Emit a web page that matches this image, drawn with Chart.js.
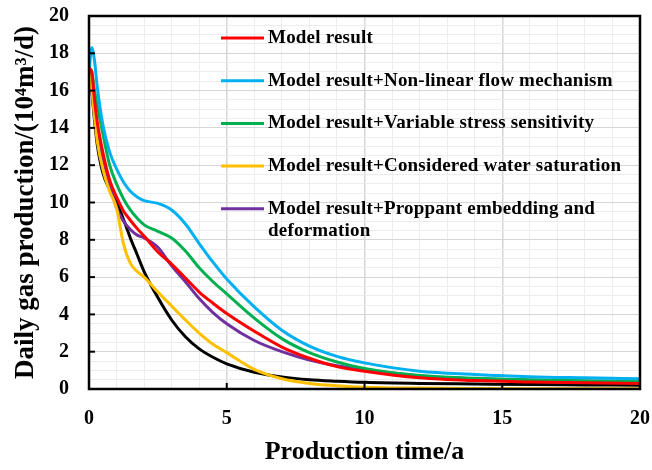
<!DOCTYPE html>
<html>
<head>
<meta charset="utf-8">
<script src="https://cdn.jsdelivr.net/npm/chart.js@4.4.1/dist/chart.umd.min.js"></script>
<style>
    html, body { margin: 0; padding: 0; background: #fff; }
    #wrap { width: 652px; height: 470px; }
</style>
</head>
<body>
<div id="wrap"><canvas id="chartGas"></canvas></div>
<script>
// production time (a)
const times = [0, 0.1, 0.2, 0.3, 0.5, 0.75, 1, 1.25, 1.5, 1.75, 2, 2.5, 3, 3.5, 4, 4.5, 5, 6, 7, 8, 9, 10, 12, 14, 16, 18, 20];

// daily gas production (10^4 m3/d)
const modelResult   = [17.2, 17.0, 15.5, 14.3, 12.7, 11.2, 10.3, 9.55, 9.05, 8.6, 8.2, 7.35, 6.7, 5.95, 5.2, 4.6, 4.05, 3.1, 2.25, 1.65, 1.2, 0.95, 0.6, 0.45, 0.38, 0.33, 0.3];
const nonLinearFlow = [17.0, 18.3, 17.6, 16.2, 14.2, 12.7, 11.8, 11.1, 10.6, 10.3, 10.1, 9.95, 9.6, 8.85, 7.8, 6.8, 5.9, 4.4, 3.15, 2.3, 1.75, 1.4, 0.95, 0.78, 0.66, 0.6, 0.55];
const stressSens    = [17.2, 17.0, 16.0, 15.2, 13.7, 12.0, 11.0, 10.2, 9.6, 9.15, 8.8, 8.45, 8.1, 7.4, 6.5, 5.75, 5.1, 3.8, 2.7, 1.95, 1.45, 1.1, 0.72, 0.58, 0.5, 0.44, 0.4];
const waterSat      = [17.2, 16.1, 14.6, 13.3, 11.8, 10.6, 9.7, 7.8, 6.75, 6.3, 6.0, 5.2, 4.45, 3.7, 3.0, 2.4, 1.95, 1.05, 0.55, 0.3, 0.18, 0.1, 0.05, 0.03, 0.02, 0.02, 0.02];
const proppantDef   = [16.4, 16.0, 14.8, 13.8, 12.4, 11.0, 9.7, 9.0, 8.55, 8.25, 8.1, 7.6, 6.6, 5.75, 4.85, 4.1, 3.5, 2.6, 2.0, 1.55, 1.25, 1.04, 0.7, 0.55, 0.47, 0.42, 0.38];
const blackCurve    = [17.2, 16.0, 14.4, 13.1, 11.6, 10.7, 10.0, 9.1, 8.1, 7.2, 6.3, 4.9, 3.7, 2.8, 2.15, 1.7, 1.35, 0.9, 0.65, 0.5, 0.42, 0.36, 0.3, 0.27, 0.24, 0.22, 0.2];

const legendLabels = [
    ["Model result"],
    ["Model result+Non-linear flow mechanism"],
    ["Model result+Variable stress sensitivity"],
    ["Model result+Considered water saturation"],
    ["Model result+Proppant embedding and", "deformation"]
];

const serif = "'Liberation Serif', 'Times New Roman', serif";

function toPoints(values) {
    return times.map((t, i) => ({ x: t, y: values[i] }));
}

function makeSet(label, values, color) {
    return {
        label: label,
        data: toPoints(values),
        borderColor: color,
        backgroundColor: color,
        borderWidth: 3,
        pointRadius: 0,
        cubicInterpolationMode: "monotone",
        fill: false
    };
}

// frame, inner tick marks and the legend inside the plot
const framePlugin = {
    id: "frame",
    afterDatasetsDraw(chart) {
        const ctx = chart.ctx;
        const area = chart.chartArea;
        const xs = chart.scales.x;
        const ys = chart.scales.y;
        ctx.save();
        ctx.strokeStyle = "#000";
        ctx.lineWidth = 2;
        for (let v = 2; v < 20; v += 2) {
            const y = ys.getPixelForValue(v);
            ctx.beginPath();
            ctx.moveTo(area.left, y);
            ctx.lineTo(area.left + 6, y);
            ctx.stroke();
        }
        for (let v = 5; v < 20; v += 5) {
            const x = xs.getPixelForValue(v);
            ctx.beginPath();
            ctx.moveTo(x, area.bottom);
            ctx.lineTo(x, area.bottom - 6);
            ctx.stroke();
        }
        ctx.lineWidth = 2.5;
        ctx.strokeRect(area.left, area.top, area.right - area.left, area.bottom - area.top);

        // legend
        const lx = area.left + 132;
        let ly = area.top + 22;
        ctx.font = "bold 19px " + serif;
        ctx.letterSpacing = "0.2px";
        ctx.textBaseline = "middle";
        ctx.fillStyle = "#000";
        legendLabels.forEach((lines, i) => {
            const ds = chart.data.datasets[i];
            ctx.strokeStyle = ds.borderColor;
            ctx.lineWidth = 3;
            ctx.beginPath();
            ctx.moveTo(lx, ly);
            ctx.lineTo(lx + 43, ly);
            ctx.stroke();
            lines.forEach((txt, j) => {
                ctx.fillText(txt, lx + 47, ly + j * 22.5);
            });
            ly += 42.7;
        });
        ctx.restore();
    }
};

new Chart(document.getElementById("chartGas"), {
    type: "line",
    data: {
        datasets: [
            makeSet("Model result", modelResult, "#FF0000"),
            makeSet("Model result+Non-linear flow mechanism", nonLinearFlow, "#00B0F0"),
            makeSet("Model result+Variable stress sensitivity", stressSens, "#00B050"),
            makeSet("Model result+Considered water saturation", waterSat, "#FFC000"),
            makeSet("Model result+Proppant embedding and deformation", proppantDef, "#7030A0"),
            makeSet("Base", blackCurve, "#000000")
        ]
    },
    options: {
        responsive: true,
        maintainAspectRatio: false,
        animation: false,
        layout: {
            padding: { top: 16, right: 12, left: 0, bottom: 0 }
        },
        plugins: {
            legend: { display: false },
            tooltip: { enabled: false }
        },
        scales: {
            x: {
                type: "linear",
                min: 0,
                max: 20,
                afterFit(scale) {
                    scale.height = 81;
                    scale.paddingLeft = 0;
                    scale.paddingRight = 0;
                },
                border: { display: false },
                grid: {
                    drawTicks: false,
                    color: (c) => (c.tick && c.tick.value % 5 === 0) ? "#d6d6d6" : "#ececec",
                    lineWidth: (c) => (c.tick && c.tick.value % 5 === 0) ? 1.5 : 1
                },
                ticks: {
                    stepSize: 1,
                    autoSkip: false,
                    maxRotation: 0,
                    padding: 18,
                    color: "#000",
                    font: { family: serif, size: 20, weight: "bold" },
                    callback: (v) => v % 5 === 0 ? v : ""
                },
                title: {
                    display: true,
                    text: "Production time/a",
                    color: "#000",
                    font: { family: serif, size: 26, weight: "bold" },
                    padding: { top: 0, bottom: 2 }
                }
            },
            y: {
                min: 0,
                max: 20,
                afterFit(scale) {
                    scale.width = 89;
                    scale.paddingTop = 0;
                    scale.paddingBottom = 0;
                },
                border: { display: false },
                grid: {
                    drawTicks: false,
                    color: (c) => (c.tick && c.tick.value % 2 === 0) ? "#d6d6d6" : "#ececec"
                },
                ticks: {
                    stepSize: 0.5,
                    autoSkip: false,
                    padding: 20,
                    color: "#000",
                    font: { family: serif, size: 20, weight: "bold" },
                    callback: (v) => v % 2 === 0 ? v : ""
                },
                title: {
                    display: true,
                    text: "Daily gas production/(10⁴m³/d)",
                    color: "#000",
                    font: { family: serif, size: 27, weight: "bold" },
                    padding: { top: 10, bottom: 0 }
                }
            }
        }
    },
    plugins: [framePlugin]
});
</script>
</body>
</html>
